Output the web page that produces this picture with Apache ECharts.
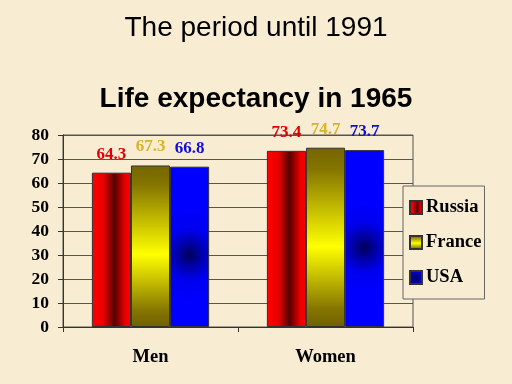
<!DOCTYPE html>
<html><head><meta charset="utf-8">
<script src="https://cdn.jsdelivr.net/npm/echarts@6/dist/echarts.min.js"></script>
<style>html,body{margin:0;padding:0;background:#f8ecd3;}#c{width:512px;height:384px;}</style>
</head><body><div id="c"></div>
<script>
var categories = ['Men', 'Women'];
var russia = [64.3, 73.4];
var france = [67.3, 74.7];
var usa = [66.8, 73.7];
var seriesNames = ['Russia', 'France', 'USA'];
var yTicks = [0, 10, 20, 30, 40, 50, 60, 70, 80];

var G = echarts.graphic;
var serif = 'Liberation Serif';
function lbl(color) {
  return { show: true, position: 'top', distance: 10, color: color, fontFamily: serif, fontWeight: 'bold', fontSize: 17,
    formatter: function (p) { return p.value.toFixed(1); } };
}
var chart = echarts.init(document.getElementById('c'), null, { renderer: 'canvas' });
chart.setOption({
  backgroundColor: '#f8ecd3',
  animation: false,
  title: [
    { text: 'The period until 1991', left: 'center', top: 9, textStyle: { fontFamily: 'Liberation Sans', fontWeight: 'normal', fontSize: 28, color: '#000' } },
    { text: 'Life expectancy in 1965', left: 'center', top: 80, textStyle: { fontFamily: 'Liberation Sans', fontWeight: 'bold', fontSize: 28, color: '#000' } }
  ],
  grid: { left: 63, right: 99, top: 135, bottom: 57, show: true, borderColor: '#555', borderWidth: 1, backgroundColor: 'transparent' },
  legend: {
    orient: 'vertical', left: 403, top: 186,
    backgroundColor: '#f8ecd3', borderColor: '#666', borderWidth: 1,
    padding: [12, 3, 12, 6], itemGap: 16, itemWidth: 12, itemHeight: 13, icon: 'rect',
    textStyle: { fontFamily: serif, fontWeight: 'bold', fontSize: 18.5, color: '#000', padding: [0, 0, 0, -1] },
    data: seriesNames
  },
  xAxis: {
    type: 'category', data: categories,
    axisLine: { show: true, lineStyle: { color: '#333' } },
    axisTick: { show: true, length: 5, lineStyle: { color: '#333' } },
    axisLabel: { margin: 21, fontFamily: serif, fontWeight: 'bold', fontSize: 18.5, color: '#000' }
  },
  yAxis: {
    type: 'value', min: 0, max: 80, interval: 10,
    axisLine: { show: true, lineStyle: { color: '#333' } },
    axisTick: { show: true, length: 5, lineStyle: { color: '#333' } },
    axisLabel: { margin: 14, fontFamily: serif, fontWeight: 'bold', fontSize: 17.5, color: '#000',
      formatter: function (v) { return yTicks.indexOf(v) >= 0 ? String(v) : ''; } },
    splitLine: { show: true, lineStyle: { color: '#555', width: 1 } }
  },
  series: [
    { name: 'Russia', type: 'bar', data: russia, barGap: '0%', barCategoryGap: '33%',
      itemStyle: { borderColor: '#333', borderWidth: 1,
        color: new G.LinearGradient(0, 0, 1, 0, [{ offset: 0, color: '#ff0000' }, { offset: 0.3, color: '#e80000' }, { offset: 0.58, color: '#550000' }, { offset: 0.85, color: '#e80000' }, { offset: 1, color: '#ff0000' }]) },
      label: lbl('#e00000') },
    { name: 'France', type: 'bar', data: france,
      itemStyle: { borderColor: '#333', borderWidth: 1,
        color: new G.LinearGradient(0, 0, 0, 1, [{ offset: 0, color: '#756500' }, { offset: 0.12, color: '#857500' }, { offset: 0.55, color: '#ffff00' }, { offset: 0.9, color: '#857500' }, { offset: 1, color: '#706000' }]) },
      label: lbl('#d8b428') },
    { name: 'USA', type: 'bar', data: usa,
      itemStyle: { borderColor: '#333', borderWidth: 1,
        color: new G.RadialGradient(0.5, 0.55, 1.2, [{ offset: 0, color: '#000058' }, { offset: 0.25, color: '#0000a8' }, { offset: 0.55, color: '#0000f0' }, { offset: 1, color: '#0000ff' }]) },
      label: lbl('#1010d0') }
  ]
});
</script></body></html>
